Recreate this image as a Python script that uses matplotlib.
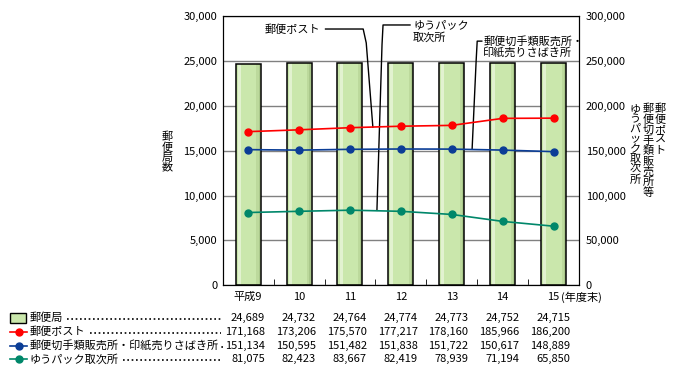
import numpy as np
import matplotlib
matplotlib.use('Agg')
import matplotlib.pyplot as plt
import matplotlib.transforms as mtransforms
from matplotlib.ticker import FuncFormatter
from matplotlib.patches import Rectangle
from matplotlib.lines import Line2D

plt.rcParams['font.family'] = ['Noto Sans CJK JP', 'DejaVu Sans']

# データ（年度末）
years = ['平成9', '10', '11', '12', '13', '14', '15']
yubinkyoku = [24689, 24732, 24764, 24774, 24773, 24752, 24715]
post = [171168, 173206, 175570, 177217, 178160, 185966, 186200]
kitte = [151134, 150595, 151482, 151838, 151722, 150617, 148889]
yupack = [81075, 82423, 83667, 82419, 78939, 71194, 65850]

W, H = 677, 373
fig = plt.figure(figsize=(W / 100, H / 100), dpi=100)


def px(x, y):
    return x / W, 1 - y / H


L, R, T, B = 222.7, 579.0, 16.0, 285.3
ax = fig.add_axes([L / W, 1 - B / H, (R - L) / W, (B - T) / H])
x = np.arange(len(years))
bw = 0.49

ax.set_xlim(-0.5, 6.5)
ax.set_ylim(0, 30000)
ax.set_yticks(range(0, 30001, 5000))
ax.yaxis.set_major_formatter(FuncFormatter(lambda v, p: f'{int(v):,}'))
ax.grid(axis='y', color='#808080', lw=1)
ax.set_axisbelow(True)

# 棒（郵便局）: 簡単なグラデーション
ax.bar(x, yubinkyoku, width=bw, color='#cae7ac', edgecolor='none', zorder=2)
ax.bar(x - bw / 2 + 0.07, yubinkyoku, width=0.06, color='#e2f2d0', edgecolor='none', zorder=2)
ax.bar(x + bw / 2 - 0.06, yubinkyoku, width=0.05, color='#bcd99c', edgecolor='none', zorder=2)
ax.bar(x + bw / 2 - 0.025, yubinkyoku, width=0.03, color='#a9c78a', edgecolor='none', zorder=2)
ax.bar(x, yubinkyoku, width=bw, fill=False, edgecolor='black', lw=1.1, zorder=3)

ax.set_xticks(x)
ax.set_xticklabels(years[:-1] + ['15'])
ax.set_xticks(x[:-1] + 0.5, minor=True)
ax.tick_params(axis='x', which='major', length=0, labelsize=8, pad=4.5)
ax.tick_params(axis='x', which='minor', direction='in', length=4, color='black')
ax.tick_params(axis='y', length=0, labelsize=8, pad=4)
for s in ax.spines.values():
    s.set_color('black')
trx = mtransforms.offset_copy(mtransforms.blended_transform_factory(ax.transData, ax.transAxes),
                              fig=fig, y=-4.5, units='points')
ax.text(6.14, 0, '(年度末)', transform=trx, ha='left', va='top', fontsize=8)

ax2 = ax.twinx()
ax2.set_ylim(0, 300000)
ax2.set_yticks(range(0, 300001, 50000))
ax2.yaxis.set_major_formatter(FuncFormatter(lambda v, p: f'{int(v):,}'))
ax2.tick_params(axis='y', length=0, labelsize=8, pad=5)

red, blue, green = '#ff0000', '#0b3d96', '#00876a'
ax2.plot(x, post, color=red, lw=1.2, marker='o', ms=5, zorder=5)
ax2.plot(x, kitte, color=blue, lw=1.2, marker='o', ms=5, zorder=5)
ax2.plot(x, yupack, color=green, lw=1.2, marker='o', ms=5, zorder=5)

# 引出線と注記
ax2.text(1.42, 285000, '郵便ポスト', ha='right', va='center', fontsize=8)
ax2.plot([1.52, 2.26, 2.32, 2.45], [285500, 285500, 270000, 176300], color='black', lw=1, zorder=4)
ax2.text(3.24, 290000, 'ゆうパック', ha='left', va='center', fontsize=8)
ax2.text(3.24, 276500, '取次所', ha='left', va='center', fontsize=8)
ax2.plot([3.18, 2.65, 2.63, 2.53], [290000, 290000, 268000, 83500], color='black', lw=1, zorder=4)
ax2.text(4.62, 272000, '郵便切手類販売所・', ha='left', va='center', fontsize=8)
ax2.text(4.62, 259500, '印紙売りさばき所', ha='left', va='center', fontsize=8)
ax2.plot([4.59, 4.50, 4.48, 4.40], [272000, 272000, 251000, 151700], color='black', lw=1, zorder=4)

# 軸ラベル（縦書き）
fig.text(*px(167, 152), '\n'.join('郵便局数'), ha='center', va='center', fontsize=8, linespacing=1.0)
for cx, s in [(660, '郵便ポスト'), (648, '郵便切手類販売所等'), (635, 'ゆうパック取次所')]:
    fig.text(*px(cx, 104), '\n'.join(s), ha='center', va='top', fontsize=8, linespacing=1.0)

# 下の表
rows_y = [318, 332, 345.5, 359]
labels = ['郵便局', '郵便ポスト', '郵便切手類販売所・印紙売りさばき所', 'ゆうパック取次所']
series = [yubinkyoku, post, kitte, yupack]
fig.patches.append(Rectangle(px(10, 323), 16 / W, 10 / H, transform=fig.transFigure,
                             facecolor='#cae7ac', edgecolor='black', lw=1))
for yy, c in zip(rows_y[1:], [red, blue, green]):
    fig.lines.append(Line2D([10 / W, 27 / W], [1 - yy / H] * 2, transform=fig.transFigure,
                            color=c, lw=1.2, zorder=5))
    fig.lines.append(Line2D([18.5 / W], [1 - yy / H], transform=fig.transFigure,
                            color=c, marker='o', ms=5, ls='none'))

tr = mtransforms.blended_transform_factory(ax.transData, fig.transFigure)
texts = []
for yy, lab, vals in zip(rows_y, labels, series):
    t = fig.text(*px(30, yy), lab, ha='left', va='center', fontsize=8)
    texts.append(t)
    for i, v in enumerate(vals):
        ax.text(i + 0.33, 1 - yy / H, f'{v:,}', transform=tr, ha='right', va='center', fontsize=8, clip_on=False)

fig.canvas.draw()
r = fig.canvas.get_renderer()
for t, yy in zip(texts, rows_y):
    x0 = t.get_window_extent(r).x1 + 4
    fig.lines.append(Line2D([x0 / W, 221 / W], [1 - (yy + 1) / H] * 2, transform=fig.transFigure,
                            color='black', lw=1.2, ls=(0, (1, 1.6))))

fig.savefig('out.png', dpi=100)
